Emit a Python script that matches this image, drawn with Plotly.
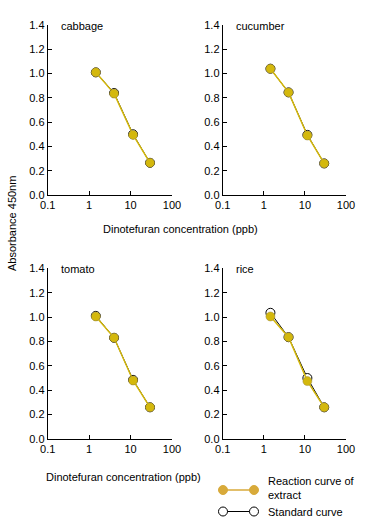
import plotly.graph_objects as go

conc = [1.45, 4.0, 11.5, 29.5]
panels = ["cabbage", "cucumber", "tomato", "rice"]
extract = {
    "cabbage": [1.01, 0.835, 0.495, 0.265],
    "cucumber": [1.04, 0.845, 0.49, 0.26],
    "tomato": [1.005, 0.83, 0.48, 0.26],
    "rice": [1.005, 0.835, 0.475, 0.26],
}
standard = {
    "cabbage": [1.01, 0.84, 0.50, 0.265],
    "cucumber": [1.04, 0.845, 0.495, 0.26],
    "tomato": [1.01, 0.83, 0.485, 0.26],
    "rice": [1.035, 0.835, 0.50, 0.26],
}
xticks = [0.1, 1, 10, 100]
xticklabels = ["0.1", "1", "10", "100"]
yticks = [0.0, 0.2, 0.4, 0.6, 0.8, 1.0, 1.2, 1.4]
yticklabels = ["0.0", "0.2", "0.4", "0.6", "0.8", "1.0", "1.2", "1.4"]

W, H = 368, 523
GOLD = "#D4B80C"
GOLD_LEG = "#D8AA3A"
FONT = "Liberation Sans, Arial, Helvetica, sans-serif"

# pixel domains
xdom = [(47.7, 172.0), (222.7, 346.0), (47.7, 172.0), (222.7, 346.0)]
ydom = [(25.0, 195.0), (25.0, 195.0), (268.3, 439.0), (268.3, 439.0)]

fig = go.Figure()
for i, name in enumerate(panels):
    k = "" if i == 0 else str(i + 1)
    xa, ya = "x" + k, "y" + k
    fig.add_trace(go.Scatter(
        x=conc, y=standard[name], xaxis=xa, yaxis=ya, mode="lines+markers",
        line=dict(color="black", width=1),
        marker=dict(size=9, color="white", line=dict(color="black", width=1)),
        showlegend=False, hoverinfo="skip"))
    fig.add_trace(go.Scatter(
        x=conc, y=extract[name], xaxis=xa, yaxis=ya, mode="lines+markers",
        line=dict(color=GOLD, width=1.5),
        marker=dict(size=9, color=GOLD, line=dict(color="#9a8a40", width=0.5)),
        showlegend=False, hoverinfo="skip"))
    x0, x1 = xdom[i]
    y0, y1 = ydom[i]
    axcommon = dict(showline=True, linecolor="black", linewidth=1, ticks="inside",
                    ticklen=4, tickcolor="black", tickwidth=1, showgrid=False,
                    zeroline=False, automargin=False,
                    tickfont=dict(family=FONT, size=11, color="black"))
    fig.layout["xaxis" + k] = dict(
        domain=[x0 / W, x1 / W], anchor=ya, type="log", range=[-1, 2],
        tickvals=xticks, ticktext=xticklabels, **axcommon)
    fig.layout["yaxis" + k] = dict(
        domain=[1 - y1 / H, 1 - y0 / H], anchor=xa, range=[0, 1.4],
        tickvals=yticks, ticktext=yticklabels, **axcommon)
    fig.add_annotation(text=name, x=(x0 + 11.5) / W, y=1 - (y0 + 1) / H,
                       xref="paper", yref="paper", xanchor="left", yanchor="middle",
                       showarrow=False, font=dict(family=FONT, size=11, color="black"))

# axis titles
fig.add_annotation(text="Dinotefuran concentration (ppb)", x=180 / W, y=1 - 229 / H,
                   xref="paper", yref="paper", xanchor="center", yanchor="middle",
                   showarrow=False, font=dict(family=FONT, size=11, color="black"))
fig.add_annotation(text="Dinotefuran concentration (ppb)", x=123 / W, y=1 - 477 / H,
                   xref="paper", yref="paper", xanchor="center", yanchor="middle",
                   showarrow=False, font=dict(family=FONT, size=11, color="black"))
fig.add_annotation(text="Absorbance 450nm", x=12 / W, y=1 - 224 / H, textangle=-90,
                   xref="paper", yref="paper", xanchor="center", yanchor="middle",
                   showarrow=False, font=dict(family=FONT, size=11, color="black"))

# legend (drawn manually)
shapes = []
def pp(x, y):
    return x / W, 1 - y / H
for (yy, col, fill, lw) in [(490, GOLD_LEG, GOLD_LEG, 1.5), (511.5, "black", "white", 1)]:
    a = pp(223, yy); b = pp(254, yy)
    shapes.append(dict(type="line", xref="paper", yref="paper", x0=a[0], y0=a[1],
                       x1=b[0], y1=b[1], line=dict(color=col, width=lw)))
    for cx in (223, 254):
        c0 = pp(cx - 4.5, yy - 4.5); c1 = pp(cx + 4.5, yy + 4.5)
        shapes.append(dict(type="circle", xref="paper", yref="paper", x0=c0[0], y0=c1[1],
                           x1=c1[0], y1=c0[1], fillcolor=fill,
                           line=dict(color="black" if fill == "white" else fill, width=1)))
fig.update_layout(shapes=shapes)
fig.add_annotation(text="Reaction curve of<br>extract", x=266 / W, y=1 - 488 / H,
                   xref="paper", yref="paper", xanchor="left", yanchor="middle", align="left",
                   showarrow=False, font=dict(family=FONT, size=11, color="black"))
fig.add_annotation(text="Standard curve", x=266 / W, y=1 - 511.5 / H,
                   xref="paper", yref="paper", xanchor="left", yanchor="middle",
                   showarrow=False, font=dict(family=FONT, size=11, color="black"))

fig.update_layout(template="none", width=W, height=H, autosize=False,
                  margin=dict(l=0, r=0, t=0, b=0, pad=0, autoexpand=False),
                  paper_bgcolor="white", plot_bgcolor="white", showlegend=False)
fig.write_html("out.html", config={"displayModeBar": False, "staticPlot": True},
               post_script=(
    "document.body.style.margin='0';document.body.style.padding='0';"
    "document.body.style.overflow='hidden';"
    "document.documentElement.style.overflow='hidden';"))
